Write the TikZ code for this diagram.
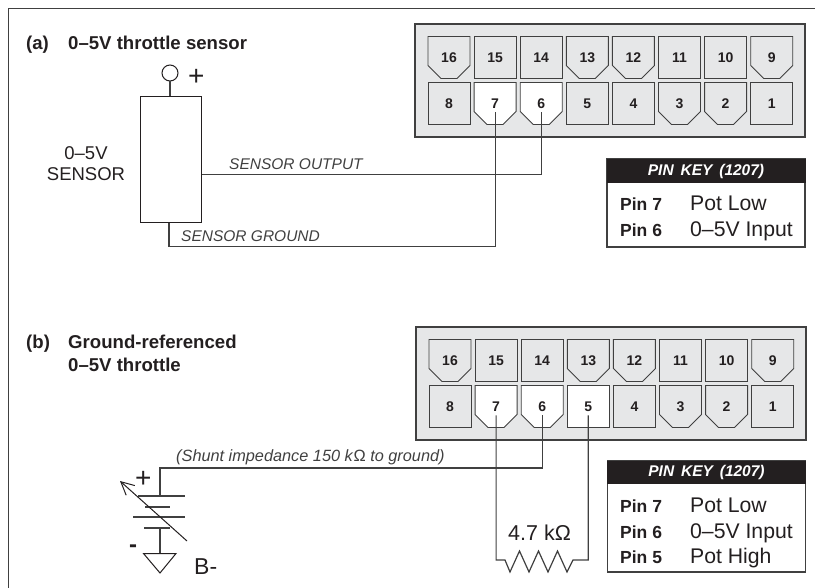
\documentclass[tikz,border=0pt]{standalone}
\usepackage{fontspec}
\setmainfont{Liberation Sans}
\usepackage{xcolor}
\usetikzlibrary{shapes,shapes.geometric}
\usetikzlibrary{calc,arrows.meta,positioning}
\definecolor{inkdark}{HTML}{231F20}
\definecolor{wiregray}{HTML}{404040}
\definecolor{pingray}{HTML}{E6E7E8}
\colorlet{pinface}{pingray}
\tikzset{
	pinsq/.style={shape=rectangle,draw=wiregray,line width=0.9pt,fill=pinface,inner sep=0pt,
		minimum width=42pt,minimum height=42pt,text=inkdark,text height=10pt,text depth=0pt,
		font=\fontsize{14}{14}\bfseries\selectfont},
	pinch/.style={pinsq,draw=none,fill=none,minimum width=43pt,minimum height=43pt,
		path picture={
			\draw[draw=wiregray,line width=0.9pt,fill=pinface]
				($(path picture bounding box.north west)+(.5pt,-.5pt)$) --
				($(path picture bounding box.south west)+(.5pt,13.5pt)$) --
				($(path picture bounding box.south west)+(13.5pt,.5pt)$) --
				($(path picture bounding box.south east)+(-13.5pt,.5pt)$) --
				($(path picture bounding box.south east)+(-.5pt,13.5pt)$) --
				($(path picture bounding box.north east)+(-.5pt,-.5pt)$) -- cycle;
		}},
	pinwhite/.code={\colorlet{pinface}{white}},
	pina7/.style={pinwhite},pina6/.style={pinwhite},
	pinb7/.style={pinwhite},pinb6/.style={pinwhite},pinb5/.style={pinwhite},
	wire/.style={draw=wiregray,line width=1.2pt},
	thinline/.style={draw=inkdark,line width=1pt},
	titletext/.style={anchor=base west,inner sep=0pt,text=inkdark,font=\fontsize{18.6}{18.6}\bfseries\selectfont},
	wiretext/.style={anchor=base west,inner sep=0pt,text=wiregray,font=\fontsize{15.5}{15.5}\itshape\selectfont},
	bigtext/.style={anchor=base west,inner sep=0pt,text=inkdark,font=\fontsize{21.5}{21.5}\selectfont},
	keyhead/.style={shape=rectangle,fill=inkdark,text=white,inner sep=0pt,minimum width=199pt,
		font=\fontsize{15.5}{15.5}\bfseries\itshape\selectfont},
	keybox/.style={shape=rectangle,draw=wiregray,line width=1.2pt,fill=white,minimum width=198pt,inner sep=0pt},
	keypin/.style={anchor=base west,inner sep=0pt,text=inkdark,font=\fontsize{17.5}{17.5}\bfseries\selectfont},
	keyval/.style={anchor=base west,inner sep=0pt,text=inkdark,font=\fontsize{21.2}{21.2}\selectfont},
}
\begin{document}
\begin{tikzpicture}[x=1pt,y=-1pt]
\useasboundingbox (0,0) rectangle (815,588);
\draw[thinline,draw=wiregray] (8,588) -- (8,9) -- (815,9);
%% connectors
\foreach \p/\dx/\dy in {a/0/0,b/1/303}
{
	\draw[wire,fill=pingray] (415+\dx,24+\dy) rectangle (805+\dx,137+\dy);
	\foreach \n/\c/\s in {16/0/pinch,15/1/pinsq,14/2/pinsq,13/3/pinch,12/4/pinch,11/5/pinsq,10/6/pinsq,9/7/pinch}
	{
		\node[\s] (\p\n) at (449+\dx+46.1*\c,57.5+\dy) {\n};
	}
	\foreach \n/\c/\s in {8/0/pinsq,7/1/pinch,6/2/pinch,5/3/pinsq,4/4/pinsq,3/5/pinch,2/6/pinch,1/7/pinsq}
	{
		\node[\s,pin\p\n/.try] (\p\n) at (449+\dx+46.1*\c,103.5+\dy) {\n};
	}
}
%% (a)
\node[titletext] (atag) at (26,50) {(a)};
\node[titletext] (atitle) at (68,50) {0–5V throttle sensor};
\node[shape=rectangle,thinline,fill=white,minimum width=61pt,minimum height=126pt,inner sep=0pt] (sensor) at (170.5,160) {};
\node[shape=circle,thinline,fill=white,minimum size=16pt,inner sep=0pt] (vplus) at (170,73) {};
\node[bigtext,font=\fontsize{28}{28}\selectfont] (aplus) at (188,85.5) {+};
\node[shape=rectangle,inner sep=0pt,align=center,text=inkdark,font=\fontsize{18.5}{21}\selectfont] (sensortext) at (86,163.5) {0–5V\\SENSOR};
\coordinate (a7w) at ($(a7.center)+(0,9)$);
\coordinate (a6w) at ($(a6.center)+(0,9)$);
\draw[wire] (vplus) -- (vplus |- sensor.north);
\draw[wire] (a6w) |- (sensor.east |- 0,174.5);
\draw[wire] (a7w) |- (169,246.5) -- (169,223);
\node[wiretext] (outtext) at (229,170) {SENSOR OUTPUT};
\node[wiretext] (gndtext) at (181,241.5) {SENSOR GROUND};
%% pin key (a)
\node[keybox,minimum height=88pt] (akey) at (706,203) {};
\node[keyhead,minimum height=24pt] (akeyhead) at (706,171) {PIN\ \,KEY\ \,(1207)};
\foreach \i/\t/\v in {7/Pot Low/211,6/0–5V Input/237}
{
	\node[keypin] (akeyp\i) at (620,\v) {Pin \i};
	\node[keyval] (akeyv\i) at (690,\v) {\t};
}
%% (b)
\node[titletext] (btag) at (26,349) {(b)};
\node[titletext] (btitle) at (68,349) {Ground-referenced};
\node[titletext] (btitlex) at (68,372) {0–5V throttle};
\coordinate (b7w) at ($(b7.center)+(0,9)$);
\coordinate (b6w) at ($(b6.center)+(0,9)$);
\coordinate (b5w) at ($(b5.center)+(0,9)$);
\coordinate (batt) at (160,496);
\draw[wire] (b6w) |- (batt |- 0,468) -- (batt);
\draw[wire] (b7w) |- (505,560) -- ++(5,12) -- ++(9.5,-21) -- ++(9.5,21) -- ++(9.5,-21)
	-- ++(9.5,21) -- ++(9.5,-21) -- ++(9.5,21) -- ++(6,-12) -| (b5w);
\node[bigtext] (rtext) at (508,540) {4.7 k\textup{Ω}};
\node[wiretext,font=\fontsize{16.3}{16.3}\itshape\selectfont] (shunttext) at (176,461) {(Shunt impedance 150 k\textup{Ω} to ground)};
%% battery
\coordinate (gnd) at (160,553);
\draw[wire] (138,496) -- (185,496);
\draw[wire] (145,507) -- (170,507);
\draw[wire] (133,517) -- (185,517);
\draw[wire] (144,528) -- (170,528);
\draw[wire] (160,528) -- (gnd);
\draw[thinline] (143.5,553.5) -- (176,553.5) -- (160,573) -- cycle;
\draw[thinline,-{Straight Barb[length=13pt,width=13pt]}] (187,541) -- (120,481);
\node[bigtext,font=\fontsize{28}{28}\selectfont] (bplus) at (135,487) {+};
\node[bigtext,font=\fontsize{24}{24}\bfseries\selectfont] (bminus) at (129,552) {-};
\node[bigtext,font=\fontsize{23}{23}\selectfont] (bgnd) at (194,574) {B-};
%% pin key (b)
\node[keybox,minimum height=111pt] (bkey) at (706.5,516.5) {};
\node[keyhead,minimum height=23pt] (bkeyhead) at (706.5,472.5) {PIN\ \,KEY\ \,(1207)};
\foreach \i/\t/\v in {7/Pot Low/512,6/0–5V Input/538,5/Pot High/563}
{
	\node[keypin] (bkeyp\i) at (620,\v) {Pin \i};
	\node[keyval] (bkeyv\i) at (690,\v) {\t};
}
\end{tikzpicture}
\end{document}
